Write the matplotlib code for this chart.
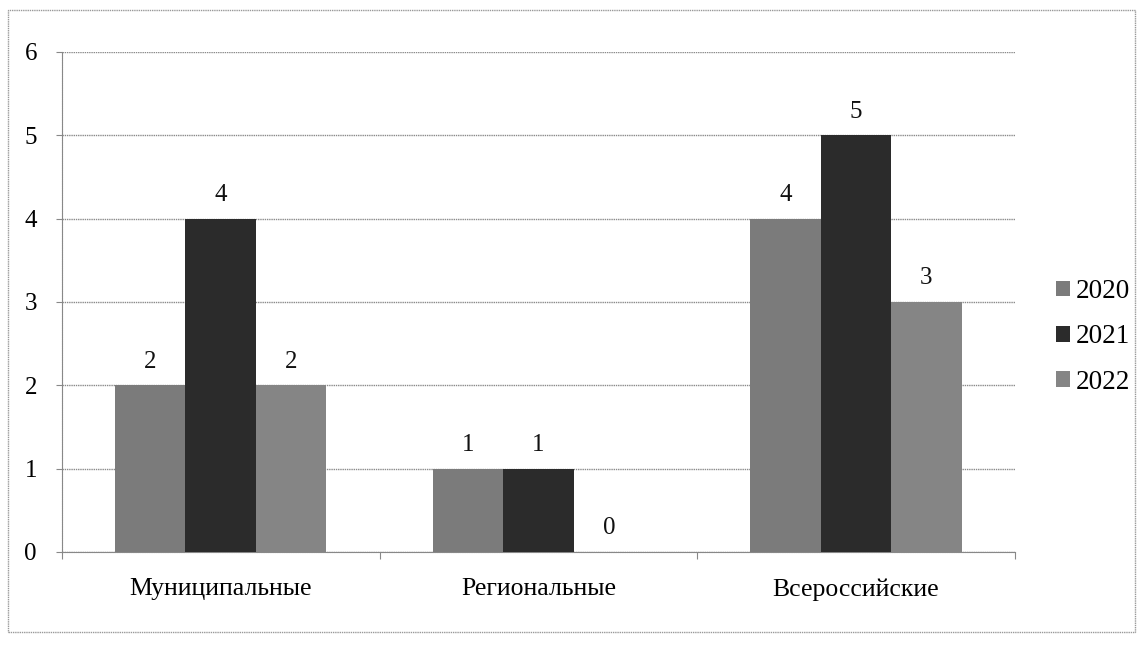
import numpy as np
import matplotlib.pyplot as plt
from matplotlib.patches import Rectangle

plt.rcParams['font.family'] = ['Liberation Serif', 'DejaVu Serif']

categories = ['Муниципальные', 'Региональные', 'Всероссийские']
years = ['2020', '2021', '2022']
values = {
    '2020': [2, 1, 4],
    '2021': [4, 1, 5],
    '2022': [2, 0, 3],
}
colors = ['#7b7b7b', '#2b2b2b', '#858585']

fig = plt.figure(figsize=(11.41, 6.45), dpi=100)
ax = fig.add_axes([0.0543, 0.1442, 0.835, 0.7752])

x = np.arange(len(categories))
width = 0.222
for i, yr in enumerate(years):
    pos = x + (i - 1) * width
    bars = ax.bar(pos, values[yr], width, color=colors[i], label=yr, zorder=3)
    for b, v in zip(bars, values[yr]):
        ax.text(b.get_x() + b.get_width() / 2, v + 0.15, str(v),
                ha='center', va='bottom', fontsize=18, color='#111111')

ax.set_xlim(-0.5, 2.5)
ax.set_ylim(0, 6)
ax.set_yticks(range(7))
ax.yaxis.grid(True, color='#8a8a8a', linewidth=1, linestyle=(0, (1, 0.6)))
ax.set_axisbelow(True)

ax.set_xticks([-0.5, 0.5, 1.5, 2.5])
ax.set_xticklabels([])
ax.set_xticks(x, minor=True)
ax.set_xticklabels(categories, minor=True, fontsize=18.5)
ax.tick_params(axis='x', which='minor', length=0, pad=19)
ax.tick_params(axis='x', which='major', length=5, color='#888888', direction='out')
ax.tick_params(axis='y', length=4, color='#888888', labelsize=18, pad=14)

for s in ['top', 'right']:
    ax.spines[s].set_visible(False)
for s in ['left', 'bottom']:
    ax.spines[s].set_color('#888888')
    ax.spines[s].set_linestyle((0, (1, 0.6)))

ax.legend(loc='center left', bbox_to_anchor=(1.018, 0.43), frameon=False,
          fontsize=19.5, handlelength=0.52, handleheight=0.52, handletextpad=0.2,
          labelspacing=0.75)

fig.patches.append(Rectangle((0.007, 0.02), 0.988, 0.965, transform=fig.transFigure,
                             fill=False, edgecolor='#999999', linewidth=1,
                             linestyle=(0, (1, 0.6))))

fig.savefig('out.png', dpi=100)
